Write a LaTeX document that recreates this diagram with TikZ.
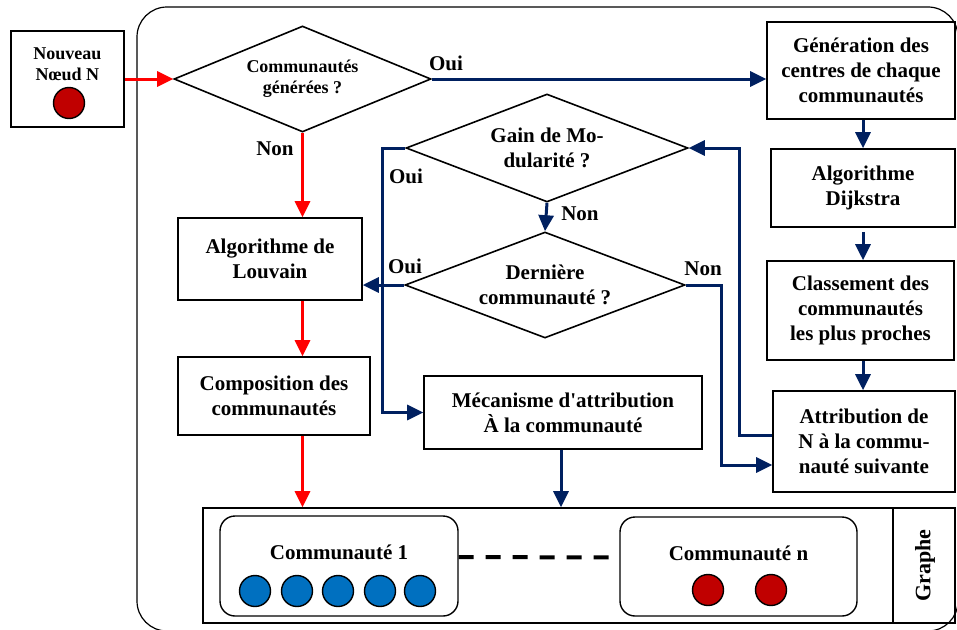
\documentclass[tikz,border=0pt]{standalone}
\usepackage{fontspec}
\setmainfont{Liberation Serif}
\usetikzlibrary{arrows.meta,shapes.geometric}

\definecolor{navy}{RGB}{0,32,96}
\definecolor{nodered}{RGB}{192,0,0}
\definecolor{nodeblue}{RGB}{0,112,192}

\begin{document}
\begin{tikzpicture}[x=1pt, y=-1pt, >={Triangle[length=16pt,width=15pt]},
  box/.style={draw, line width=1.6pt, align=center, inner sep=0pt,
    font=\bfseries\fontsize{21}{25}\selectfont},
  test/.style={diamond, draw, line width=1.6pt, align=center, inner sep=0pt,
    font=\bfseries\fontsize{21}{25}\selectfont},
  lbl/.style={font=\bfseries\fontsize{21}{25}\selectfont},
  small/.style={font=\bfseries\fontsize{18}{21}\selectfont, align=center},
  redflow/.style={->, red, line width=3pt},
  blueflow/.style={->, navy, line width=3pt},
  dot/.style={circle, draw, line width=1.4pt, minimum size=31pt, inner sep=0pt}]

\useasboundingbox (0,0) rectangle (957,629);
\clip (0,0) rectangle (957,629);

% frame
\draw[line width=1.2pt, rounded corners=30pt] (137,7) rectangle (958,631);

% new node
\node[draw, line width=1.6pt, minimum width=113pt, minimum height=96pt] (new) at (67.5,79) {};
\node[small] (newtxt) at (67.5,64) {Nouveau\\Nœud N};
\node[dot, fill=nodered] (newdot) at (69,103) {};

% left branch
\node[test, minimum width=257pt, minimum height=106pt, aspect=2.42,
  font=\bfseries\fontsize{18}{21}\selectfont] (d1) at (302.5,79) {Communautés\\générées ?};
\node[box, minimum width=184pt, minimum height=82pt] (louv) at (270,259) {Algorithme de\\Louvain};
\node[box, minimum width=192pt, minimum height=78pt] (comp) at (274,396) {Composition des\\communautés};

% right column
\node[box, minimum width=188pt, minimum height=97pt] (gen) at (861,70.5) {Génération des\\centres de chaque\\communautés};
\node[box, minimum width=184pt, minimum height=78pt] (dij) at (863,188) {Algorithme\\Dijkstra};
\node[box, minimum width=187pt, minimum height=99pt] (cls) at (860.5,310.5) {Classement des\\communautés\\les plus proches};
\node[box, minimum width=182pt, minimum height=101pt] (attr) at (864,441.5) {Attribution de\\N à la commu-\\nauté suivante};

% middle tests
\node[test, minimum width=282pt, minimum height=108pt, aspect=2.6] (d2) at (547,148) {Gain de Mo-\\dularité ?};
\node[test, minimum width=280pt, minimum height=106pt, aspect=2.64] (d3) at (545,285) {Dernière\\communauté ?};
\node[box, minimum width=278pt, minimum height=73pt] (meca) at (563,412.5) {Mécanisme d\textquotesingle attribution\\À la communauté};

% graph
\node[draw, line width=1.6pt, minimum width=752pt, minimum height=115pt] (graph) at (579,565.5) {};
\draw[line width=1.6pt] ([xshift=-63pt]graph.north east) -- ([xshift=-63pt]graph.south east);
\node[lbl, rotate=90, font=\bfseries\fontsize{22}{26}\selectfont] (graphtxt) at (925,565.5) {Graphe};

\node[draw, line width=1.4pt, rounded corners=15pt, minimum width=238pt, minimum height=100pt] (c1) at (339,566) {};
\node[lbl] (c1txt) at (339,552) {Communauté 1};
\foreach \x [count=\i] in {255,297,338,380,420}
  \node[dot, fill=nodeblue] (b\i) at (\x,591) {};

\node[draw, line width=1.4pt, rounded corners=15pt, minimum width=237pt, minimum height=99pt] (cn) at (738.5,566.5) {};
\node[lbl] (cntxt) at (738.5,553) {Communauté n};
\node[dot, fill=nodered] (r1) at (708,590) {};
\node[dot, fill=nodered] (r2) at (771,590) {};

\draw[line width=4pt, dash pattern=on 15pt off 12pt] ([yshift=9pt]c1.east) -- ([yshift=9pt]cn.west);

% red flow
\draw[redflow] (new.east) -- (d1.west);
\draw[redflow] (d1.south) -- (d1.south |- louv.north);
\draw[redflow] (d1.south |- louv.south) -- (d1.south |- comp.north);
\draw[redflow] (d1.south |- comp.south) -- (d1.south |- graph.north);

% blue flow
\draw[blueflow] (d1.east) -- (d1.east -| gen.west);
\draw[blueflow] (dij.north |- gen.south) -- (dij.north);
\draw[blueflow, shorten <=4pt] (dij.south) -- (dij.south |- cls.north);
\draw[blueflow] (dij.south |- cls.south) -- (dij.south |- attr.north);
\draw[blueflow] ([yshift=6.5pt]attr.west) -- ++(-33,0) |- (d2.east);
\draw[blueflow] (d2.south) -- (d3.north);
\draw[blueflow] (d3.west) -- (d3.west -| louv.east);
\draw[blueflow] (d3.east) -- ++(36,0) |- ([yshift=-23.5pt]attr.west);
\draw[blueflow] (d2.west) -- ++(-23,0) |- (meca.west);
\draw[blueflow] ([xshift=-2pt]meca.south) -- ([xshift=-2pt]meca.south |- graph.north);

% answers
\node[lbl] (oui1) at (446,63) {Oui};
\node[lbl] (non1) at (275,149) {Non};
\node[lbl] (oui2) at (406,176) {Oui};
\node[lbl] (non2) at (580,214) {Non};
\node[lbl] (oui3) at (405,266) {Oui};
\node[lbl] (non3) at (703,269) {Non};

\end{tikzpicture}
\end{document}
